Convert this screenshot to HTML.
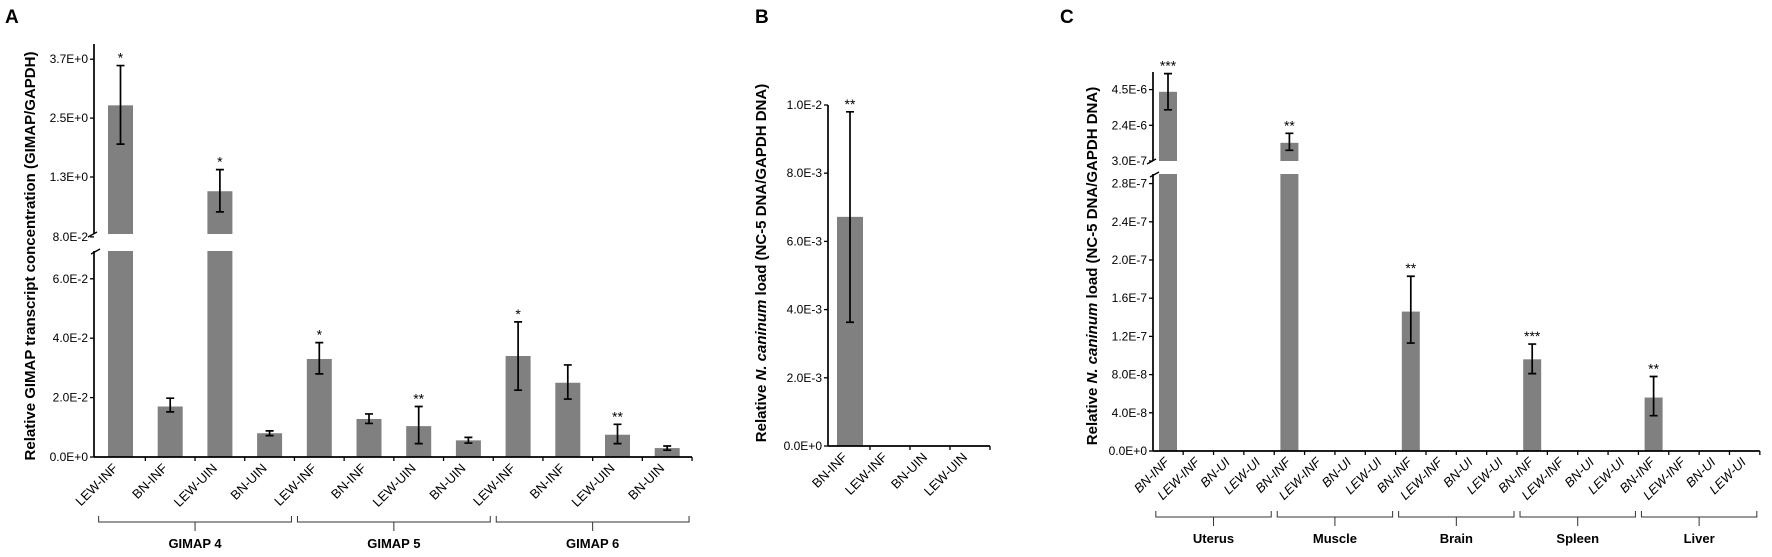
<!DOCTYPE html>
<html><head><meta charset="utf-8"><style>
html,body{margin:0;padding:0;background:#fff;}
svg{display:block;font-family:"Liberation Sans",Arial,sans-serif;}
</style></head><body>
<svg id="fig" width="1772" height="557" viewBox="0 0 1772 557" xmlns="http://www.w3.org/2000/svg"></svg>
<script>
// ---------- Panel A data ----------
const aCategories = ["LEW-INF","BN-INF","LEW-UIN","BN-UIN","LEW-INF","BN-INF","LEW-UIN","BN-UIN","LEW-INF","BN-INF","LEW-UIN","BN-UIN"];
const aGroups = ["GIMAP 4","GIMAP 5","GIMAP 6"];
const aValues = [2.76,0.017,1.01,0.008,0.033,0.0128,0.0104,0.0056,0.034,0.025,0.0075,0.003];
const aErrHigh = [3.57,0.0198,1.45,0.0088,0.0385,0.0145,0.017,0.0066,0.0455,0.031,0.011,0.0037];
const aErrLow = [1.97,0.0152,0.59,0.0072,0.028,0.0113,0.0045,0.0047,0.0225,0.0195,0.0045,0.0023];
const aStars = ["*","","*","","*","","**","","*","","**",""];
const aLowerTicks = [0,0.02,0.04,0.06];
const aLowerTickLabels = ["0.0E+0","2.0E-2","4.0E-2","6.0E-2"];
const aUpperTicks = [0.08,1.3,2.5,3.7];
const aUpperTickLabels = ["8.0E-2","1.3E+0","2.5E+0","3.7E+0"];
// ---------- Panel B data ----------
const bCategories = ["BN-INF","LEW-INF","BN-UIN","LEW-UIN"];
const bValues = [0.00672,0,0,0];
const bErrHigh = [0.0098,0,0,0];
const bErrLow = [0.00363,0,0,0];
const bStars = ["**","","",""];
const bTicks = [0,0.002,0.004,0.006,0.008,0.01];
const bTickLabels = ["0.0E+0","2.0E-3","4.0E-3","6.0E-3","8.0E-3","1.0E-2"];
// ---------- Panel C data ----------
const cCategories = ["BN-INF","LEW-INF","BN-UI","LEW-UI","BN-INF","LEW-INF","BN-UI","LEW-UI","BN-INF","LEW-INF","BN-UI","LEW-UI","BN-INF","LEW-INF","BN-UI","LEW-UI","BN-INF","LEW-INF","BN-UI","LEW-UI"];
const cGroups = ["Uterus","Muscle","Brain","Spleen","Liver"];
const cValues = [4.37e-6,0,0,0,1.37e-6,0,0,0,1.46e-7,0,0,0,9.6e-8,0,0,0,5.6e-8,0,0,0];
const cErrHigh = [5.44e-6,0,0,0,1.93e-6,0,0,0,1.83e-7,0,0,0,1.12e-7,0,0,0,7.8e-8,0,0,0];
const cErrLow = [3.31e-6,0,0,0,9.3e-7,0,0,0,1.13e-7,0,0,0,8.1e-8,0,0,0,3.7e-8,0,0,0];
const cStars = ["***","","","","**","","","","**","","","","***","","","","**","","",""];
const cLowerTicks = [0,4e-8,8e-8,1.2e-7,1.6e-7,2.0e-7,2.4e-7,2.8e-7];
const cLowerTickLabels = ["0.0E+0","4.0E-8","8.0E-8","1.2E-7","1.6E-7","2.0E-7","2.4E-7","2.8E-7"];
const cUpperTicks = [3e-7,2.4e-6,4.5e-6];
const cUpperTickLabels = ["3.0E-7","2.4E-6","4.5E-6"];

const NS="http://www.w3.org/2000/svg";
const svg=document.getElementById('fig');
function mk(tag,attrs,parent){const e=document.createElementNS(NS,tag);for(const k in attrs)e.setAttribute(k,attrs[k]);(parent||svg).appendChild(e);return e;}
function txt(s,attrs,parent){const e=mk('text',attrs,parent);e.textContent=s;return e;}

function panel(cfg){
  const g=mk('g',{});
  
  
  const {x0,base,lowTop,upBot,axTop,cx0,step,bw,n}=cfg;
  const xEnd=cx0+(n-0.5)*step;
  const broken=!!cfg.upY;
  const L=txt(cfg.letter,{x:cfg.letterX,y:23,'font-size':19,'font-weight':'bold'},g);
  
  
  const tt=mk('text',{transform:`translate(${cfg.titleX},${cfg.titleY}) rotate(-90)`,'text-anchor':'middle','font-size':cfg.titleSize,'font-weight':'bold'},g);
  
  
  cfg.title.forEach(p=>{const s=document.createElementNS(NS,'tspan');s.textContent=p[0];if(p[1])s.setAttribute('font-style','italic');tt.appendChild(s);});
  for(let i=0;i<n;i++){
    const v=cfg.values[i];const cx=cx0+i*step;
    if(v>0){
      if(broken&&v>cfg.breakVal){
        const b1=mk('rect',{x:cx-bw/2,y:lowTop,width:bw,height:base-lowTop,fill:'#808080'},g);
        
        
        const yt=cfg.upY(v);
        const b2=mk('rect',{x:cx-bw/2,y:yt,width:bw,height:upBot-yt,fill:'#808080'},g);
        
        
      } else {
        const yt=cfg.lowY(v);
        const b=mk('rect',{x:cx-bw/2,y:yt,width:bw,height:base-yt,fill:'#808080'},g);
        
        
      }
      const Y=val=>(broken&&val>cfg.breakVal)?cfg.upY(val):cfg.lowY(val);
      const yh=Y(cfg.errHigh[i]),yl=Y(cfg.errLow[i]);
      const e=mk('path',{d:`M${cx},${yh}V${yl}M${cx-4},${yh}H${cx+4}M${cx-4},${yl}H${cx+4}`,stroke:'#000','stroke-width':1.7,fill:'none'},g);
      
      
      if(cfg.stars[i]){
        const s=txt(cfg.stars[i],{x:cx,y:yh-3,'text-anchor':'middle','font-size':14},g);
        
        
      }
    }
  }
  const ax=mk('path',{d:(broken?`M${x0},${base}V${lowTop}M${x0},${upBot}V${axTop}`:`M${x0},${base}V${axTop}`)+`M${x0},${base}H${xEnd}`,stroke:'#000','stroke-width':1.7,fill:'none'},g);
  
  
  if(broken){
    mk('path',{d:`M${x0-6},${upBot+3}L${x0+3},${upBot-2}M${x0-3},${lowTop+3}L${x0+6},${lowTop-2}`,stroke:'#000','stroke-width':1.3},g);
  }
  const tickAt=(y,lab)=>{mk('line',{x1:x0-4,x2:x0,y1:y,y2:y,stroke:'#000','stroke-width':1.3},g);
    const t=txt(lab,{x:x0-6,y:y+4,'text-anchor':'end','font-size':12},g);
    
    };
  cfg.lowTicks.forEach((v,i)=>tickAt(cfg.lowY(v),cfg.lowLabels[i]));
  if(broken)cfg.upTicks.forEach((v,i)=>tickAt(cfg.upY(v),cfg.upLabels[i]));
  for(let i=1;i<=n;i++){const x=cx0+(i-0.5)*step;mk('line',{x1:x,x2:x,y1:base,y2:base+4,stroke:'#000','stroke-width':1.3},g);}
  cfg.cats.forEach((c,i)=>{const cx=cx0+i*step+cfg.labDx;
    const t=txt(c,{transform:`translate(${cx},${base+12}) rotate(-45)`,'text-anchor':'end','font-size':cfg.labSize,'font-style':cfg.italic?'italic':'normal'},g);
    
    });
  if(cfg.groups){
    const per=n/cfg.groups.length;
    cfg.groups.forEach((gname,k)=>{
      const xa=cx0+(k*per-0.5)*step+3,xb=cx0+((k+1)*per-0.5)*step-3,xm=(xa+xb)/2;
      const by=cfg.brY;
      const br=mk('path',{d:`M${xa},${by-6}V${by}H${xb}V${by-6}M${xm},${by}V${by+9}`,stroke:'#333','stroke-width':1,fill:'none'},g);
      
      
      const t=txt(gname,{x:xm,y:by+26,'text-anchor':'middle','font-size':cfg.grpSize,'font-weight':'bold'},g);
      
      
    });
  }
}

panel({name:'panel-a',letter:'A',letterX:5,x0:94,base:457,lowTop:251,upBot:234,axTop:44,cx0:120.5,step:49.7,bw:25,n:12,
  breakVal:0.07,lowY:v=>457-v/0.02*59.4,upY:v=>177-(v-1.3)/1.2*58.9,
  values:aValues,errHigh:aErrHigh,errLow:aErrLow,stars:aStars,
  lowTicks:aLowerTicks,lowLabels:aLowerTickLabels,upTicks:aUpperTicks,upLabels:aUpperTickLabels,
  cats:aCategories,groups:aGroups,labDx:-2,labSize:13,italic:false,brY:522,grpSize:13,
  title:[["Relative GIMAP transcript concentration (GIMAP/GAPDH)"]],titleX:35,titleY:256,titleSize:15});

panel({name:'panel-b',letter:'B',letterX:755,x0:828,base:446,axTop:105,cx0:850,step:40,bw:26,n:4,
  lowY:v=>446-v/0.002*68.2,values:bValues,errHigh:bErrHigh,errLow:bErrLow,stars:bStars,
  lowTicks:bTicks,lowLabels:bTickLabels,cats:bCategories,labDx:-2,labSize:13,italic:false,
  title:[["Relative "],["N. caninum",true],[" load (NC-5 DNA/GAPDH  DNA)"]],titleX:766,titleY:263,titleSize:15});

panel({name:'panel-c',letter:'C',letterX:1060,x0:1153,base:451,lowTop:174,upBot:161,axTop:72,cx0:1168,step:30.35,bw:18,n:20,
  breakVal:2.9e-7,lowY:v=>451-v/4e-8*38.2,upY:v=>161-(v-3e-7)/2.1e-6*35.7,
  values:cValues,errHigh:cErrHigh,errLow:cErrLow,stars:cStars,
  lowTicks:cLowerTicks,lowLabels:cLowerTickLabels,upTicks:cUpperTicks,upLabels:cUpperTickLabels,
  cats:cCategories,groups:cGroups,labDx:2,labSize:13,italic:true,brY:517,grpSize:13,
  title:[["Relative "],["N. caninum",true],[" load (NC-5 DNA/GAPDH  DNA)"]],titleX:1097,titleY:266,titleSize:15});
</script>
</body></html>
